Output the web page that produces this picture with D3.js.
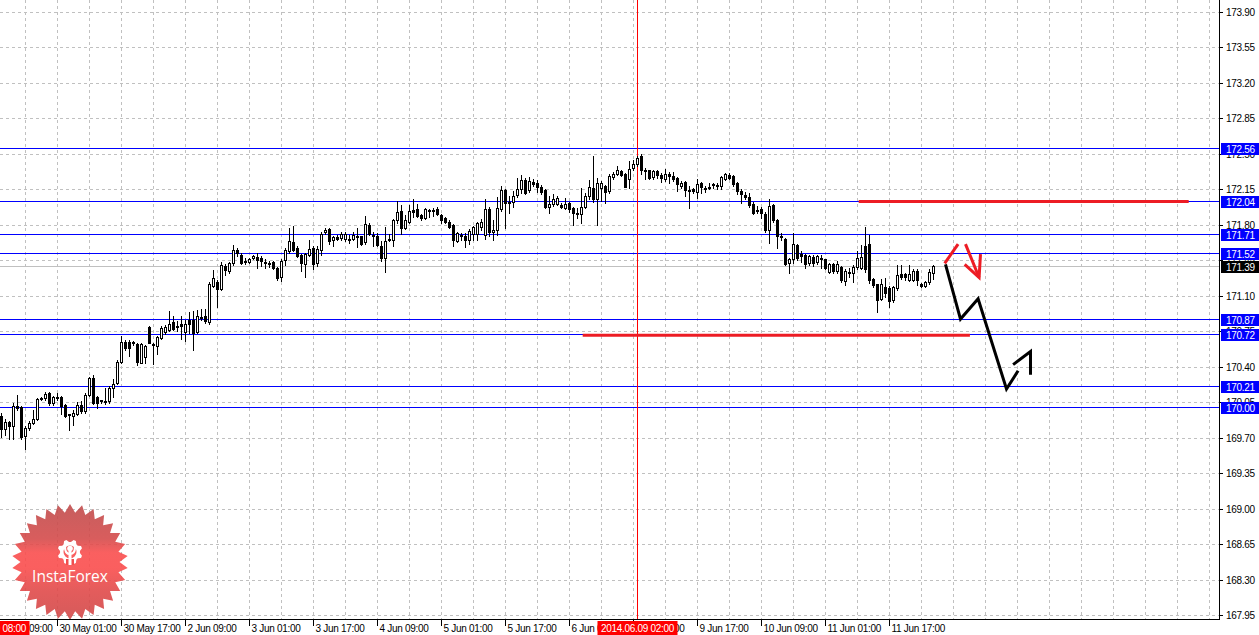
<!DOCTYPE html>
<html><head><meta charset="utf-8">
<script src="https://cdn.jsdelivr.net/npm/d3@7"></script>
<style>html,body{margin:0;padding:0;background:#fff;overflow:hidden}</style>
</head><body><svg id="c" width="1259" height="635"></svg>
<script>
// ---- DATA (hourly candles) ----
const opens = [169.91,169.79,169.85,169.81,170.01,170.00,169.72,169.80,169.84,169.88,170.09,170.09,170.14,170.04,170.10,170.10,170.02,169.93,169.91,169.93,
170.02,169.96,170.12,170.29,170.10,170.07,170.06,170.06,170.19,170.24,170.45,170.64,170.64,170.64,170.62,170.44,170.50,170.79,170.62,170.60,
170.68,170.74,170.76,170.84,170.80,170.82,170.74,170.86,170.86,170.74,170.89,170.90,170.84,171.20,171.24,171.17,171.39,171.34,171.42,171.55,
171.50,171.44,171.43,171.47,171.48,171.47,171.43,171.42,171.43,171.37,171.29,171.45,171.54,171.63,171.57,171.50,171.41,171.50,171.57,171.42,
171.55,171.73,171.76,171.65,171.68,171.67,171.66,171.66,171.66,171.69,171.69,171.63,171.80,171.70,171.69,171.59,171.47,171.65,171.65,171.85,
171.94,171.77,171.83,171.95,171.96,171.90,171.87,171.95,171.95,171.96,171.90,171.87,171.83,171.80,171.64,171.70,171.69,171.65,171.71,171.71,
171.78,171.70,171.96,171.73,171.75,171.96,172.14,172.03,172.03,172.09,172.15,172.24,172.14,172.22,172.21,172.17,172.14,171.98,172.01,172.01,
172.00,171.97,172.02,171.97,171.92,171.91,171.98,172.08,172.16,172.05,172.16,172.18,172.13,172.27,172.30,172.33,172.30,172.25,172.36,172.40,
172.48,172.34,172.34,172.27,172.33,172.29,172.25,172.30,172.28,172.26,172.18,172.22,172.14,172.15,172.12,172.21,172.16,172.17,172.20,172.18,
172.18,172.25,172.29,172.28,172.21,172.13,172.09,172.07,172.01,171.95,171.96,171.91,171.75,172.00,171.85,171.69,171.66,171.42,171.46,171.60,
171.51,171.50,171.42,171.48,171.43,171.47,171.46,171.33,171.41,171.34,171.38,171.25,171.33,171.32,171.38,171.37,171.59,171.61,171.27,171.22,
171.07,171.19,171.18,171.06,171.18,171.31,171.31,171.26,171.26,171.34,171.22,171.20,171.24,171.32];
const highs = [169.94,169.88,169.86,170.04,170.12,170.01,169.81,169.86,169.97,170.09,170.10,170.15,170.15,170.11,170.14,170.11,170.03,169.93,169.97,170.05,
170.06,170.14,170.30,170.32,170.11,170.07,170.19,170.21,170.28,170.47,170.70,170.66,170.66,170.65,170.63,170.63,170.61,170.80,170.63,170.70,
170.80,170.81,170.95,170.90,170.85,170.90,170.86,170.94,170.95,170.96,170.97,170.97,171.24,171.35,171.26,171.43,171.41,171.43,171.60,171.57,
171.52,171.47,171.47,171.50,171.52,171.49,171.46,171.44,171.44,171.38,171.46,171.57,171.77,171.79,171.59,171.51,171.52,171.65,171.59,171.59,
171.73,171.77,171.77,171.69,171.70,171.73,171.73,171.70,171.73,171.77,171.69,171.89,171.82,171.73,171.72,171.64,171.78,171.71,171.86,172.04,
172.00,171.90,172.00,172.05,172.01,171.91,171.97,171.96,171.97,171.98,171.91,171.88,171.85,171.81,171.73,171.72,171.72,171.76,171.79,171.83,
171.86,172.05,171.98,171.85,172.07,172.18,172.15,172.08,172.13,172.26,172.29,172.26,172.27,172.25,172.24,172.19,172.15,172.08,172.10,172.08,
172.02,172.06,172.03,171.98,171.97,172.16,172.11,172.24,172.48,172.26,172.23,172.19,172.30,172.32,172.38,172.34,172.31,172.43,172.44,172.48,
172.50,172.36,172.34,172.34,172.34,172.31,172.35,172.32,172.32,172.27,172.23,172.23,172.18,172.16,172.25,172.22,172.18,172.21,172.21,172.21,
172.28,172.31,172.31,172.29,172.22,172.15,172.12,172.11,172.03,171.99,171.98,171.93,172.05,172.01,171.86,171.72,171.67,171.47,171.72,171.61,
171.54,171.51,171.50,171.50,171.50,171.50,171.46,171.42,171.42,171.44,171.39,171.36,171.37,171.40,171.54,171.60,171.78,171.70,171.28,171.22,
171.27,171.28,171.20,171.20,171.40,171.40,171.32,171.40,171.36,171.36,171.23,171.25,171.36,171.40];
const lows = [169.71,169.73,169.69,169.69,169.97,169.69,169.59,169.78,169.83,169.87,170.07,170.07,170.02,170.02,170.07,169.93,169.90,169.78,169.82,169.92,
169.94,169.94,170.11,170.03,169.99,170.04,170.03,170.04,170.10,170.23,170.44,170.56,170.51,170.61,170.42,170.44,170.44,170.63,170.43,170.53,
170.67,170.72,170.75,170.76,170.75,170.67,170.65,170.73,170.56,170.73,170.86,170.83,170.82,171.19,170.99,171.16,171.30,171.32,171.40,171.49,
171.41,171.41,171.42,171.46,171.37,171.39,171.37,171.38,171.36,171.26,171.25,171.40,171.52,171.54,171.48,171.34,171.29,171.49,171.36,171.39,
171.50,171.71,171.61,171.59,171.65,171.65,171.64,171.62,171.65,171.58,171.60,171.61,171.70,171.59,171.59,171.44,171.33,171.64,171.59,171.82,
171.71,171.76,171.82,171.88,171.88,171.85,171.86,171.88,171.89,171.90,171.82,171.82,171.77,171.59,171.63,171.65,171.58,171.61,171.65,171.65,
171.75,171.66,171.69,171.65,171.70,171.94,171.77,171.92,171.98,172.07,172.11,172.10,172.12,172.18,172.12,172.10,171.97,171.92,171.99,172.00,
171.97,171.96,171.93,171.80,171.87,171.82,171.97,172.05,172.03,171.80,172.04,172.02,172.11,172.25,172.29,172.28,172.17,172.16,172.34,172.38,
172.30,172.25,172.25,172.25,172.26,172.22,172.23,172.21,172.23,172.13,172.16,172.08,171.97,172.11,172.06,172.11,172.12,172.15,172.16,172.15,
172.15,172.24,172.25,172.18,172.10,172.02,172.05,171.98,171.91,171.92,171.87,171.73,171.62,171.83,171.57,171.65,171.40,171.32,171.42,171.45,
171.43,171.37,171.40,171.39,171.41,171.37,171.36,171.32,171.32,171.32,171.24,171.21,171.29,171.24,171.36,171.36,171.33,171.23,171.19,170.94,
171.06,171.09,170.99,171.04,171.16,171.27,171.26,171.25,171.25,171.21,171.19,171.19,171.22,171.27];
const closes = [169.79,169.85,169.81,170.01,169.99,169.71,169.80,169.84,169.88,170.08,170.08,170.13,170.04,170.10,170.09,170.01,169.91,169.92,169.94,170.02,
169.96,170.12,170.29,170.04,170.04,170.06,170.05,170.19,170.23,170.45,170.64,170.58,170.58,170.63,170.45,170.62,170.60,170.63,170.61,170.69,
170.78,170.79,170.82,170.77,170.79,170.80,170.82,170.82,170.73,170.90,170.88,170.85,171.22,171.28,171.17,171.40,171.35,171.42,171.55,171.52,
171.42,171.43,171.46,171.49,171.45,171.44,171.42,171.41,171.37,171.28,171.44,171.55,171.64,171.55,171.49,171.42,171.51,171.56,171.41,171.56,
171.71,171.75,171.64,171.68,171.66,171.71,171.71,171.65,171.70,171.68,171.61,171.81,171.71,171.69,171.60,171.47,171.64,171.66,171.85,171.93,
171.77,171.85,171.94,171.93,171.89,171.87,171.96,171.94,171.94,171.91,171.85,171.83,171.78,171.65,171.72,171.69,171.65,171.74,171.78,171.82,
171.83,171.96,171.73,171.75,171.97,172.14,172.02,172.02,172.08,172.15,172.24,172.11,172.23,172.20,172.17,172.12,171.98,172.01,172.05,172.06,
171.98,172.01,171.96,171.92,171.91,171.98,172.08,172.17,172.05,172.21,172.21,172.12,172.28,172.30,172.34,172.29,172.17,172.35,172.40,172.46,
172.34,172.33,172.26,172.33,172.29,172.26,172.30,172.28,172.25,172.20,172.21,172.14,172.13,172.13,172.20,172.17,172.15,172.16,172.19,172.19,
172.27,172.30,172.26,172.20,172.13,172.10,172.07,172.00,171.92,171.94,171.92,171.75,171.99,171.85,171.69,171.68,171.41,171.46,171.61,171.47,
171.49,171.41,171.49,171.42,171.49,171.46,171.37,171.41,171.34,171.41,171.26,171.34,171.32,171.38,171.47,171.48,171.36,171.26,171.21,171.06,
171.22,171.13,171.05,171.19,171.30,171.29,171.29,171.31,171.34,171.26,171.20,171.24,171.33,171.39];

const priceTicks = ["173.90","173.55","173.20","172.85","172.50","172.15","171.80","171.45","171.10","170.75","170.40","170.05","169.70","169.35","169.00","168.65","168.30","167.95"];
const timeLabels = ["29 May 09:00","30 May 01:00","30 May 17:00","2 Jun 09:00","3 Jun 01:00","3 Jun 17:00","4 Jun 09:00","5 Jun 01:00","5 Jun 17:00","6 Jun 09:00","9 Jun 01:00","9 Jun 17:00","10 Jun 09:00","11 Jun 01:00","11 Jun 17:00"];
const timeLabelBars = [-2,14,30,46,62,78,94,110,126,142,158,174,190,206,222];
const levelPrices = [172.56,172.04,171.71,171.52,170.87,170.72,170.21,170.00];
const bidPrice = 171.39;
const vlineBars = [-3,159];
const vlineLabels = ["2014.05.29 08:00","2014.06.09 02:00"];
const redLevelLines = [{from:145.3,to:242.1,price:170.72},{from:214.3,to:296.8,price:172.04}];
const blackPath = [[236.0,171.41],[239.75,170.87],[244.15,171.07],[251.25,170.18],[254.15,170.36]];
const blackHead = [[252.9,170.42],[257.25,170.55],[257.25,170.32]];
const redUp = [[235.8,171.42],[239.15,171.61]];
const redDown = [[241.0,171.61],[244.4,171.28]];
const redHead = [[240.8,171.41],[244.4,171.28],[244.75,171.51]];

// ---- SCALES ----
const W=1259,H=635, axisX=1219.5, axisY=619.5;
const x = d3.scaleLinear().domain([0,300]).range([1.5,1201.5]);
const y = d3.scaleLinear().domain([167.95,173.90]).range([615,12]);
const ry = p => Math.round(y(p))+0.5;

const svg = d3.select("#c");
svg.append("rect").attr("width",W).attr("height",H).attr("fill","#fff");
const defs = svg.append("defs");
defs.append("clipPath").attr("id","plot").append("rect").attr("x",0).attr("y",0).attr("width",1219).attr("height",619);
const grad = defs.append("linearGradient").attr("id","starg").attr("x1",0).attr("y1",0).attr("x2",0).attr("y2",1);
[[0,"#c04c4c"],[0.3,"#d44b4b"],[0.42,"#f94e4e"],[0.55,"#fa4d4d"],[0.75,"#e04a4a"],[1,"#d04848"]].forEach(s=>grad.append("stop").attr("offset",s[0]).attr("stop-color",s[1]));

const plot = svg.append("g").attr("clip-path","url(#plot)");

// grid
const grid = plot.append("g").attr("stroke","#c0c0c0").attr("stroke-dasharray","3,3").attr("shape-rendering","crispEdges");
grid.selectAll("line.h").data(priceTicks).join("line").attr("x1",0).attr("x2",1219).attr("y1",d=>ry(+d)).attr("y2",d=>ry(+d));
grid.selectAll("line.v").data(d3.range(6,303,8)).join("line").attr("class","v").attr("x1",d=>x(d)).attr("x2",d=>x(d)).attr("y1",0).attr("y2",619);

// logo
const logo = plot.append("g").attr("transform","translate(70,562)");
const N=30, pts=[];
for(let k=0;k<2*N;k++){const r=k%2===0?58:49.5; const a=Math.PI*k/N - Math.PI/2; pts.push([r*Math.cos(a), r*Math.sin(a)]);}
logo.append("path").attr("d","M"+pts.map(p=>p.join(",")).join("L")+"Z").attr("fill","url(#starg)").attr("opacity",0.9);
// gear
const g = logo.append("g").attr("transform","translate(0,-10)");
let gp=[]; const T=8;
for(let k=0;k<T*4;k++){const a=(k/(T*4))*2*Math.PI - Math.PI/2 + Math.PI/(T*4); const r=(k%4===1||k%4===2)?12.5:10; gp.push([r*Math.cos(a),r*Math.sin(a)]);}
let gearD="M"+gp.map(p=>p.join(",")).join("L")+"Z";
gearD += "M6.5,0A6.5,6.5 0 1,0 -6.5,0A6.5,6.5 0 1,0 6.5,0Z";
g.append("path").attr("d",gearD).attr("fill","#fff").attr("fill-rule","evenodd");
g.append("rect").attr("x",-4).attr("y",7).attr("width",8).attr("height",6).attr("fill","#f04d4d");
g.append("circle").attr("cx",0).attr("cy",-3.5).attr("r",2.8).attr("fill","#fff");
g.append("rect").attr("x",-1.5).attr("y",-1).attr("width",3).attr("height",14).attr("fill","#fff");
g.append("path").attr("d","M-5,-5 Q-5,2 0,2 Q5,2 5,-5").attr("fill","none").attr("stroke","#fff").attr("stroke-width",2.2);
logo.append("text").attr("x",0).attr("y",20).attr("text-anchor","middle").attr("fill","#fff")
  .attr("font-family","'Open Sans', 'Liberation Sans', sans-serif").attr("font-size","15.5px").text("InstaForex");

// level lines
const lv = plot.append("g").attr("shape-rendering","crispEdges");
lv.append("line").attr("x1",0).attr("x2",1219).attr("y1",ry(bidPrice)).attr("y2",ry(bidPrice)).attr("stroke","#c0c0c0");
lv.selectAll("line.l").data(levelPrices).join("line").attr("class","l").attr("x1",0).attr("x2",1219)
  .attr("y1",d=>ry(d)).attr("y2",d=>ry(d)).attr("stroke","#0000ff");
lv.selectAll("line.vl").data(vlineBars).join("line").attr("class","vl").attr("x1",d=>x(d)).attr("x2",d=>x(d))
  .attr("y1",0).attr("y2",619).attr("stroke","#ff0000");

// candles
const idx = d3.range(opens.length);
const cg = plot.append("g").attr("shape-rendering","crispEdges");
cg.selectAll("line.w").data(idx).join("line").attr("x1",i=>x(i)).attr("x2",i=>x(i))
  .attr("y1",i=>Math.round(y(highs[i]))).attr("y2",i=>Math.round(y(lows[i]))+1).attr("stroke","#000");
cg.selectAll("rect.b").data(idx).join("rect")
  .attr("x",i=>closes[i]>=opens[i]? x(i)-1 : x(i)-1.5)
  .attr("width",i=>closes[i]>=opens[i]?2:3)
  .attr("y",i=>{const t=Math.round(y(Math.max(opens[i],closes[i]))); return closes[i]>=opens[i]? t+0.5 : t;})
  .attr("height",i=>{const t=Math.round(y(Math.max(opens[i],closes[i]))), b=Math.round(y(Math.min(opens[i],closes[i]))); return closes[i]>=opens[i]? Math.max(b-t,1) : Math.max(b-t+1,1);})
  .attr("fill",i=>closes[i]>=opens[i]?"#fff":"#000")
  .attr("stroke",i=>closes[i]>=opens[i]?"#000":"none").attr("stroke-width",1);

// red level segments
plot.selectAll("line.red").data(redLevelLines).join("line").attr("class","red")
  .attr("x1",d=>x(d.from)).attr("x2",d=>x(d.to)).attr("y1",d=>y(d.price)+1).attr("y2",d=>y(d.price)+1)
  .attr("stroke","#ed1c24").attr("stroke-width",3);

// annotation arrows
const ln = d3.line().x(d=>x(d[0])).y(d=>y(d[1]));
[[blackPath,"#000"],[blackHead,"#000"],[redUp,"#ed1c24"],[redDown,"#ed1c24"],[redHead,"#ed1c24"]].forEach(([pts,c])=>{
  plot.append("path").attr("d",ln(pts)).attr("fill","none").attr("stroke",c).attr("stroke-width",3).attr("stroke-linejoin","miter");
});

// axes
const ax = svg.append("g").attr("shape-rendering","crispEdges");
ax.append("line").attr("x1",axisX).attr("x2",axisX).attr("y1",0).attr("y2",620).attr("stroke","#000");
ax.append("line").attr("x1",0).attr("x2",1220).attr("y1",axisY).attr("y2",axisY).attr("stroke","#000");
const font = "'Liberation Sans', Arial, sans-serif";
// price ticks
ax.selectAll("line.pt").data(priceTicks).join("line").attr("class","pt").attr("x1",1220).attr("x2",1223)
  .attr("y1",d=>ry(+d)).attr("y2",d=>ry(+d)).attr("stroke","#000");
svg.selectAll("text.pt").data(priceTicks).join("text").attr("class","pt").attr("x",1226).attr("y",d=>Math.round(y(+d))+4)
  .attr("font-family",font).attr("font-size","10px").attr("letter-spacing","-0.3px").attr("fill","#000").text(d=>d);
// level labels
const allLv = levelPrices.map(p=>({p,c:"#0000ff"})).concat([{p:bidPrice,c:"#000"}]);
const lb = svg.selectAll("g.lb").data(allLv).join("g").attr("class","lb");
lb.append("rect").attr("x",1221).attr("width",38).attr("y",d=>Math.round(y(d.p))-5).attr("height",12).attr("fill",d=>d.c);
lb.append("text").attr("x",1226).attr("y",d=>Math.round(y(d.p))+5).attr("font-family",font).attr("font-size","10px")
  .attr("letter-spacing","-0.3px").attr("fill","#fff").text(d=>d.p.toFixed(2));
// time ticks
ax.selectAll("line.tt").data(timeLabelBars).join("line").attr("class","tt").attr("x1",d=>x(d)).attr("x2",d=>x(d))
  .attr("y1",620).attr("y2",626).attr("stroke","#000");
svg.selectAll("text.tt").data(timeLabels).join("text").attr("class","tt").attr("x",(d,i)=>x(timeLabelBars[i])+2).attr("y",632)
  .attr("font-family",font).attr("font-size","10px").attr("letter-spacing","-0.3px").attr("fill","#000").text(d=>d);
// vertical line labels
const vl = svg.selectAll("g.vlab").data(vlineBars).join("g").attr("class","vlab");
vl.append("rect").attr("x",d=>x(d)-40).attr("width",80).attr("y",621).attr("height",14).attr("fill","#ff0000");
vl.append("text").attr("x",d=>x(d)).attr("y",632).attr("text-anchor","middle").attr("font-family",font).attr("font-size","10px")
  .attr("letter-spacing","-0.3px").attr("fill","#fff").text((d,i)=>vlineLabels[i]);
</script></body></html>
